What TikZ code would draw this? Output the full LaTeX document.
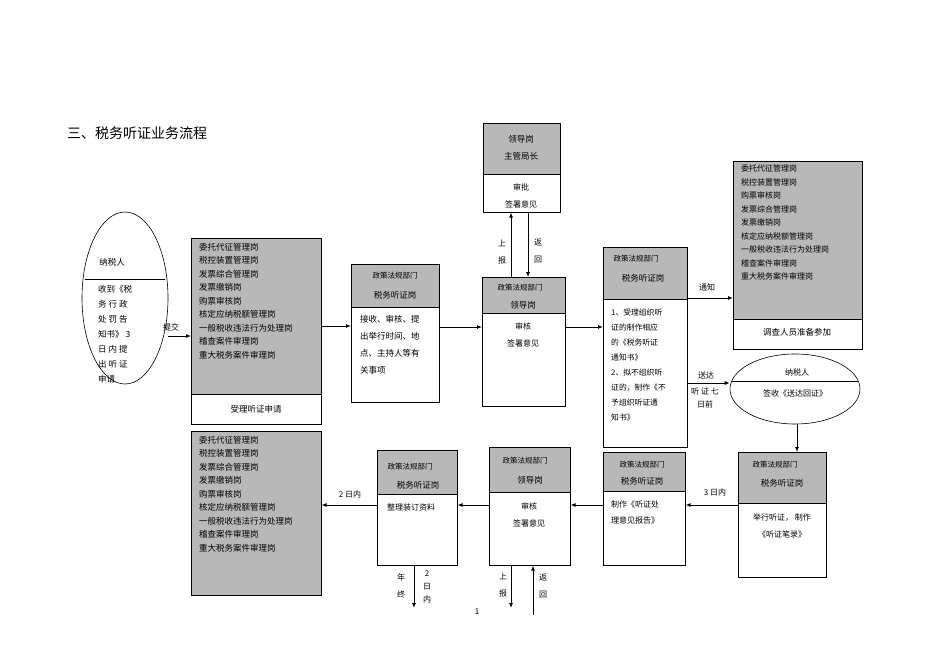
\documentclass[tikz,border=0pt]{standalone}
\usepackage{fontspec}
\setmainfont{Noto Sans CJK SC}
\usetikzlibrary{arrows.meta,shapes.geometric}
\begin{document}
\begin{tikzpicture}[x=1pt,y=-1pt,
  bx/.style={draw,line width=0.6pt,fill=white},
  hd/.style={draw,line width=0.6pt,fill=black!28},
  arr/.style={-{Latex[length=5pt,width=4pt]},line width=0.9pt},
  t/.style={font=\fontsize{8.5}{13.5}\selectfont,align=left,inner sep=0},
  tc/.style={font=\fontsize{8.5}{13.5}\selectfont,align=center,inner sep=0},
  lab/.style={font=\fontsize{8}{12}\selectfont,inner sep=0,align=center}]
\useasboundingbox (0,0) rectangle (950,671);
\newcommand\post{委托代征管理岗\\税控装置管理岗\\发票综合管理岗\\发票缴销岗\\购票审核岗\\核定应纳税额管理岗\\一般税收违法行为处理岗\\稽查案件审理岗\\重大税务案件审理岗}
% title
\node[anchor=west,font=\fontsize{14}{16}\selectfont,inner sep=0] (title) at (67,133) {三、税务听证业务流程};
% ellipse taxpayer
\node[draw,ellipse,line width=0.6pt,minimum width=86,minimum height=172,inner sep=0] (P) at (125,298) {};
\draw[line width=0.6pt] (85,279) -- (165,279);
\node[tc] (Pn) at (112,262) {纳税人};
\node[t,anchor=north west,font=\fontsize{8.5}{15}\selectfont] (Pt) at (98,285) {收到《税\\务\ 行\ 政\\处\ 罚\ 告\\知书》\ 3\\日\ 内\ 提\\出\ 听\ 证\\申请};
% box A
\node[bx,minimum width=130,minimum height=186,anchor=north west,inner sep=0] (A) at (191,238) {};
\draw[hd] (191,238) rectangle (321,394);
\node[t,anchor=north west] (At) at (199,243) {\post};
\node[tc] (Ab) at (256,409) {受理听证申请};
% box B
\node[bx,minimum width=88,minimum height=138,anchor=north west,inner sep=0] (B) at (351,264) {};
\draw[hd] (351,264) rectangle (439,307);
\node[tc,font=\fontsize{7.5}{10}\selectfont] (B1) at (395,276) {政策法规部门};
\node[tc] (B2) at (395,295) {税务听证岗};
\node[t,anchor=north west,font=\fontsize{8.5}{17}\selectfont] (Bt) at (360,315) {接收、审核、提\\出举行时间、地\\点、主持人等有\\关事项};
% box C
\node[bx,minimum width=77,minimum height=89,anchor=north west,inner sep=0] (C) at (483,123) {};
\draw[hd] (483,123) rectangle (560,174);
\node[tc,font=\fontsize{8.5}{17}\selectfont] (C1) at (521,148) {领导岗\\主管局长};
\node[tc,font=\fontsize{8}{17}\selectfont] (C2) at (521,196) {审批\\签署意见};
% box D
\node[bx,minimum width=83,minimum height=129,anchor=north west,inner sep=0] (D) at (482,277) {};
\draw[hd] (482,277) rectangle (565,313);
\node[tc,font=\fontsize{7.5}{10}\selectfont] (D1) at (520,288) {政策法规部门};
\node[tc] (D2) at (523,305) {领导岗};
\node[tc,font=\fontsize{8}{17}\selectfont] (D3) at (523,335) {审核\\签署意见};
% box E
\node[bx,minimum width=84,minimum height=200,anchor=north west,inner sep=0] (E) at (603,247) {};
\draw[hd] (603,247) rectangle (687,299);
\node[tc,font=\fontsize{7.5}{10}\selectfont] (E1) at (636,259) {政策法规部门};
\node[tc] (E2) at (643,278) {税务听证岗};
\node[t,anchor=north west,font=\fontsize{7.8}{15}\selectfont] (Et) at (611,309) {1、受理组织听\\证的制作相应\\的《税务听证\\通知书》\\2、拟不组织听\\证的，制作《不\\予组织听证通\\知书》};
% box F
\node[bx,minimum width=129,minimum height=188,anchor=north west,inner sep=0] (F) at (733,161) {};
\draw[hd] (733,161) rectangle (862,319);
\node[t,anchor=north west,font=\fontsize{8}{13.5}\selectfont] (Ft) at (741,165) {委托代征管理岗\\税控装置管理岗\\购票审核岗\\发票综合管理岗\\发票缴销岗\\核定应纳税额管理岗\\一般税收违法行为处理岗\\稽查案件审理岗\\重大税务案件审理岗};
\node[tc] (Fb) at (797,332) {调查人员准备参加};
% ellipse G
\node[draw,ellipse,line width=0.6pt,minimum width=130,minimum height=70,inner sep=0] (G) at (795,389) {};
\draw[line width=0.6pt] (732,381) -- (858,381);
\node[tc,font=\fontsize{8}{10}\selectfont] (G1) at (797,372) {纳税人};
\node[tc,font=\fontsize{8}{10}\selectfont] (G2) at (795,393) {签收《送达回证》};
% bottom H
\node[hd,minimum width=130,minimum height=164,anchor=north west,inner sep=0] (H) at (191,431) {};
\node[t,anchor=north west] (Ht) at (199,436) {\post};
% I
\node[bx,minimum width=80,minimum height=115,anchor=north west,inner sep=0] (I) at (377,450) {};
\draw[hd] (377,450) rectangle (457,494);
\node[tc,font=\fontsize{7.5}{10}\selectfont] (I1) at (410,467) {政策法规部门};
\node[tc] (I2) at (418,485) {税务听证岗};
\node[tc,font=\fontsize{8}{10}\selectfont] (I3) at (411,507) {整理装订资料};
% J
\node[bx,minimum width=81,minimum height=118,anchor=north west,inner sep=0] (J) at (489,447) {};
\draw[hd] (489,447) rectangle (570,492);
\node[tc,font=\fontsize{7.5}{10}\selectfont] (J1) at (525,461) {政策法规部门};
\node[tc] (J2) at (530,480) {领导岗};
\node[tc,font=\fontsize{8}{17}\selectfont] (J3) at (529,515) {审核\\签署意见};
% K
\node[bx,minimum width=82,minimum height=113,anchor=north west,inner sep=0] (K) at (603,452) {};
\draw[hd] (603,452) rectangle (685,491);
\node[tc,font=\fontsize{7.5}{10}\selectfont] (K1) at (642,465) {政策法规部门};
\node[tc] (K2) at (642,481) {税务听证岗};
\node[t,anchor=north west,font=\fontsize{8}{16}\selectfont] (K3) at (611,501) {制作《听证处\\理意见报告》};
% L
\node[bx,minimum width=88,minimum height=125,anchor=north west,inner sep=0] (L) at (738,452) {};
\draw[hd] (738,452) rectangle (826,503);
\node[tc,font=\fontsize{7.5}{10}\selectfont] (L1) at (775,465) {政策法规部门};
\node[tc] (L2) at (782,483) {税务听证岗};
\node[tc,font=\fontsize{8}{17}\selectfont] (L3) at (782,526) {举行听证，\ 制作\\《听证笔录》};
% arrows
\draw[arr] (P.east|-0,336) -- (A.west|-0,336);
\node[lab] (l1) at (171,327) {提交};
\draw[arr] (A.east|-0,326) -- (B.west|-0,326);
\draw[arr] (B.east|-0,327) -- (D.west|-0,327);
\draw[arr] (D.east|-0,327) -- (E.west|-0,327);
\draw[arr] (D.north-|511,0) -- (C.south-|511,0);
\draw[arr] (C.south-|528,0) -- (D.north-|528,0);
\node[lab,font=\fontsize{8}{17}\selectfont] (l2) at (502,252) {上\\报};
\node[lab,font=\fontsize{8}{17}\selectfont] (l3) at (538,251) {返\\回};
\draw[arr] (E.east|-0,298) -- (F.west|-0,298);
\node[lab] (l4) at (707,287) {通知};
\draw[arr] (E.east|-0,383) -- (G.west|-0,383);
\node[lab] (l5) at (706,375) {送达};
\node[lab,font=\fontsize{8}{13}\selectfont] (l6) at (705,398) {听\ 证\ 七\\日前\hspace{1.6em}};
\draw[arr] (G.south-|797,0) -- (L.north-|797,0);
\draw[arr] (L.west|-0,505) -- (K.east|-0,505);
\node[lab] (l7) at (715,492) {3 日内};
\draw[arr] (K.west|-0,505) -- (J.east|-0,505);
\draw[arr] (J.west|-0,505) -- (I.east|-0,505);
\draw[arr] (I.west|-0,505) -- (H.east|-0,505);
\node[lab] (l8) at (350,494) {2 日内};
\coordinate (d1) at (414,608);
\coordinate (d2) at (511,608);
\coordinate (u1) at (533,615);
\draw[arr] (I.south-|414,0) -- (d1);
\draw[arr] (J.south-|511,0) -- (d2);
\draw[arr] (u1) -- (J.south-|533,0);
\node[lab,font=\fontsize{8}{17}\selectfont] (l9) at (401,586) {年\\终};
\node[lab,font=\fontsize{8}{13}\selectfont] (l10) at (427,587) {2\\日\\内};
\node[lab,font=\fontsize{8}{17}\selectfont] (l11) at (503,585) {上\\报};
\node[lab,font=\fontsize{8}{17}\selectfont] (l12) at (543,586) {返\\回};
\node[lab] (pg) at (477,612) {1};
\end{tikzpicture}
\end{document}
